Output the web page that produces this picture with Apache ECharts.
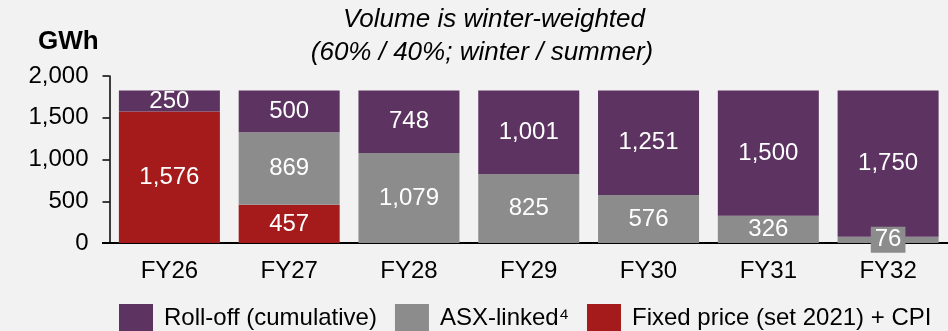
<!DOCTYPE html>
<html>
<head>
<meta charset="utf-8">
<script src="https://cdn.jsdelivr.net/npm/echarts@6/dist/echarts.min.js"></script>
<style>
  html, body { margin: 0; padding: 0; background: #f2f2f2; }
  #chart { width: 948px; height: 331px; }
</style>
</head>
<body>
<div id="chart"></div>
<script>
// Contracted volume by financial year (GWh)
const categories = ['FY26', 'FY27', 'FY28', 'FY29', 'FY30', 'FY31', 'FY32'];
const fixedPrice = [1576, 457, 0, 0, 0, 0, 0];
const asxLinked = [0, 869, 1079, 825, 576, 326, 76];
const rollOff = [250, 500, 748, 1001, 1251, 1500, 1750];
const yTicks = { min: 0, max: 2000, interval: 500 };

const FONT = '"Liberation Sans", Arial, sans-serif';
const COLORS = { roll: '#5c3361', asx: '#8c8c8c', fixed: '#a51b1b' };

const fmt = v => (v ? Number(v).toLocaleString('en-US') : '');

function series(name, data, color) {
  return {
    name: name,
    type: 'bar',
    stack: 'vol',
    data: data,
    barWidth: 101,
    itemStyle: { color: color },
    label: {
      show: true,
      position: 'inside',
      color: '#ffffff',
      fontFamily: FONT,
      fontSize: 24,
      formatter: p => fmt(p.value)
    }
  };
}

const asxSeries = series('ASX-linked\u2074', asxLinked.map(v => {
  // thin segments carry a boxed label so the number stays readable
  if (v && v < 150) {
    return { value: v, label: { backgroundColor: COLORS.asx, padding: [2, 4, 0, 4] } };
  }
  return v;
}), COLORS.asx);

const chart = echarts.init(document.getElementById('chart'), null, { renderer: 'canvas' });
chart.setOption({
  backgroundColor: '#f2f2f2',
  animation: false,
  grid: { left: 109.5, right: -2, top: 76, bottom: 88, containLabel: false },
  xAxis: {
    type: 'category',
    data: categories,
    axisLine: { show: true, lineStyle: { color: '#000', width: 2 } },
    axisTick: { show: false },
    axisLabel: { color: '#000', fontFamily: FONT, fontSize: 24, margin: 16 }
  },
  yAxis: {
    type: 'value',
    min: yTicks.min,
    max: yTicks.max,
    interval: yTicks.interval,
    splitLine: { show: false },
    axisLine: { show: true, lineStyle: { color: '#000', width: 1.5 } },
    axisTick: { show: true, length: 7, lineStyle: { color: '#000', width: 1.5 } },
    axisLabel: {
      color: '#000', fontFamily: FONT, fontSize: 24, margin: 21,
      formatter: v => Number(v).toLocaleString('en-US')
    }
  },
  legend: {
    left: 119,
    top: 304,
    padding: 0,
    itemWidth: 34,
    itemHeight: 28,
    itemGap: 18,
    icon: 'rect',
    data: ['Roll-off (cumulative)', 'ASX-linked\u2074', 'Fixed price (set 2021) + CPI'],
    textStyle: { color: '#000', fontFamily: FONT, fontSize: 24, padding: [0, 0, 0, 6] }
  },
  graphic: [
    {
      // x-axis baseline continues under the y-axis tick
      type: 'line', shape: { x1: 102, y1: 243, x2: 110, y2: 243 },
      style: { stroke: '#000', lineWidth: 2 }
    },
    {
      type: 'text', left: 38, top: 29,
      style: { text: 'GWh', fill: '#000', font: 'bold 26px ' + FONT }
    },
    {
      type: 'text', x: 494, y: 20,
      style: {
        text: 'Volume is winter-weighted', fill: '#000',
        font: 'italic 26px ' + FONT, textAlign: 'center', textVerticalAlign: 'middle'
      }
    },
    {
      type: 'text', x: 482, y: 53,
      style: {
        text: '(60% / 40%; winter / summer)', fill: '#000',
        font: 'italic 26px ' + FONT, textAlign: 'center', textVerticalAlign: 'middle'
      }
    }
  ],
  series: [
    series('Fixed price (set 2021) + CPI', fixedPrice, COLORS.fixed),
    asxSeries,
    series('Roll-off (cumulative)', rollOff, COLORS.roll)
  ]
});
</script>
</body>
</html>
